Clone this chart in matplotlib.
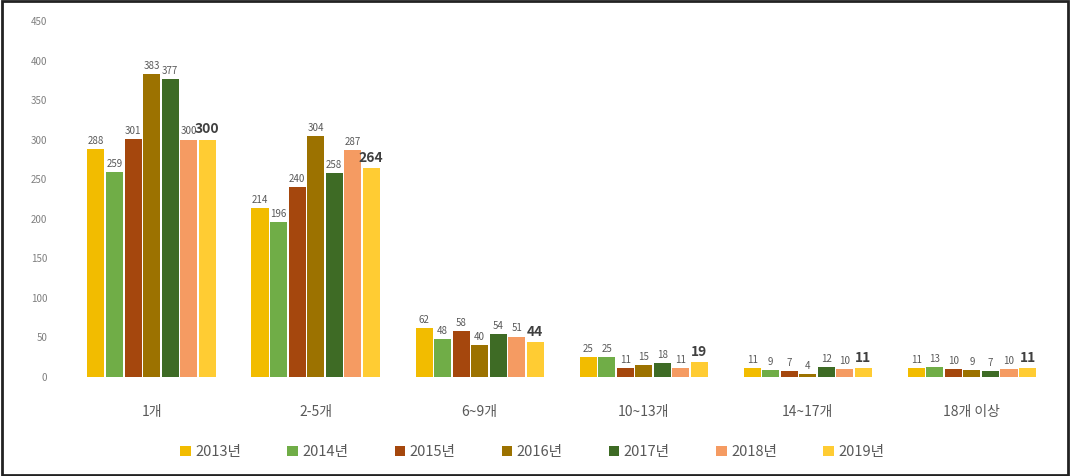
import numpy as np
import matplotlib.pyplot as plt
from matplotlib.patches import Rectangle

plt.rcParams['font.family'] = ['Noto Sans CJK KR', 'DejaVu Sans']

# 데이터
categories = ['1개', '2-5개', '6~9개', '10~13개', '14~17개', '18개 이상']
years = ['2013년', '2014년', '2015년', '2016년', '2017년', '2018년', '2019년']
values = {
    '2013년': [288, 214, 62, 25, 11, 11],
    '2014년': [259, 196, 48, 25, 9, 13],
    '2015년': [301, 240, 58, 11, 7, 10],
    '2016년': [383, 304, 40, 15, 4, 9],
    '2017년': [377, 258, 54, 18, 12, 7],
    '2018년': [300, 287, 51, 11, 10, 10],
    '2019년': [300, 264, 44, 19, 11, 11],
}
colors = ['#F2BC00', '#70AD47', '#A5470D', '#9C7200', '#3E6B25', '#F59B62', '#FFCC33']
yticks = [0, 50, 100, 150, 200, 250, 300, 350, 400, 450]

#%% 그림
fig = plt.figure(figsize=(10.7, 4.76), dpi=100)
ax = fig.add_axes([0.065, 0.208, 0.92, 0.748])

x = np.arange(len(categories))
width = 0.104
for i, (yr, c) in enumerate(zip(years, colors)):
    pos = x + (i - 3) * 0.113
    ax.bar(pos, values[yr], width=width, color=c, label=yr)
    for p, v in zip(pos, values[yr]):
        if yr == '2019년':
            ax.text(p, v + 4, str(v), ha='center', va='bottom',
                    fontsize=10, fontweight='bold', color='#404040')
        else:
            ax.text(p, v + 4, str(v), ha='center', va='bottom',
                    fontsize=7, color='#595959')

ax.set_ylim(0, 450)
ax.set_xlim(-0.5, len(categories) - 0.5)
ax.set_yticks(yticks)
ax.set_xticks(x)
ax.set_xticklabels(categories, fontsize=10, color='#595959')
ax.tick_params(axis='y', labelsize=7, colors='#7f7f7f', length=0, pad=16)
ax.tick_params(axis='x', length=0, pad=20)
for s in ax.spines.values():
    s.set_visible(False)

ax.legend(loc='upper center', bbox_to_anchor=(0.47, -0.155), ncol=7, frameon=False,
          fontsize=10.5, handlelength=0.7, handleheight=0.7, handletextpad=0.3,
          columnspacing=3.2, labelcolor='#595959')

# 테두리
fig.patches.append(Rectangle((0.002, 0.003), 0.996, 0.994, transform=fig.transFigure,
                             fill=False, edgecolor='#222222', linewidth=2))

fig.savefig('out.png', dpi=100)
